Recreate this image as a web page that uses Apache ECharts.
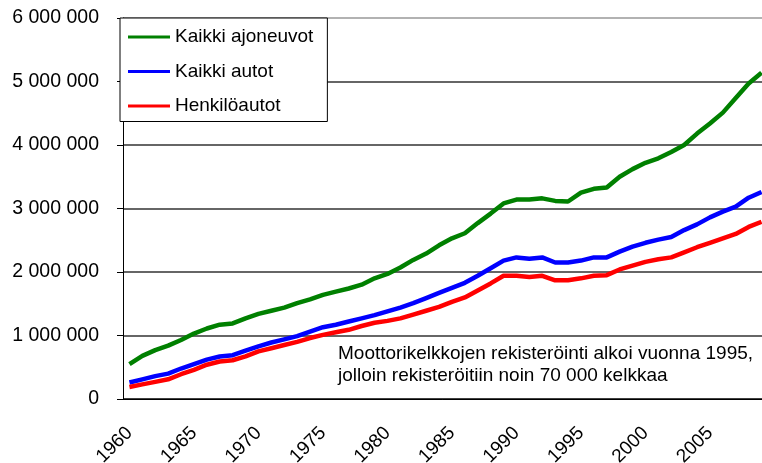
<!DOCTYPE html>
<html>
<head>
<meta charset="utf-8">
<script src="https://cdn.jsdelivr.net/npm/echarts@6/dist/echarts.min.js"></script>
<style>
  html, body { margin: 0; padding: 0; background: #fff; }
  #chart { width: 762px; height: 463px; }
</style>
</head>
<body>
<div id="chart"></div>
<script>
// vuodet 1960-2009
const years = []
for (let y = 1960; y <= 2009; y++) years.push(String(y))

// Kaikki ajoneuvot (kpl)
const kaikkiAjoneuvot = [
  550000, 680000, 770000, 840000, 930000, 1030000, 1110000, 1170000, 1190000, 1270000,
  1340000, 1390000, 1440000, 1510000, 1570000, 1640000, 1690000, 1740000, 1800000, 1900000,
  1970000, 2070000, 2190000, 2290000, 2420000, 2530000, 2610000, 2770000, 2920000, 3080000,
  3140000, 3140000, 3160000, 3120000, 3110000, 3250000, 3310000, 3330000, 3500000, 3620000,
  3720000, 3790000, 3890000, 4000000, 4180000, 4340000, 4510000, 4740000, 4970000, 5140000,
]
// Kaikki autot
const kaikkiAutot = [
  260000, 310000, 360000, 400000, 480000, 550000, 620000, 670000, 690000, 760000,
  830000, 890000, 940000, 990000, 1060000, 1130000, 1170000, 1220000, 1270000, 1320000,
  1380000, 1440000, 1510000, 1590000, 1670000, 1750000, 1830000, 1940000, 2060000, 2180000,
  2230000, 2210000, 2230000, 2150000, 2150000, 2180000, 2230000, 2230000, 2320000, 2400000,
  2460000, 2510000, 2550000, 2660000, 2750000, 2860000, 2950000, 3030000, 3170000, 3260000,
]
// Henkilöautot
const henkiloautot = [
  190000, 230000, 270000, 310000, 390000, 460000, 540000, 590000, 610000, 670000,
  750000, 800000, 850000, 900000, 960000, 1010000, 1050000, 1090000, 1150000, 1200000,
  1230000, 1270000, 1330000, 1390000, 1450000, 1530000, 1600000, 1710000, 1820000, 1940000,
  1940000, 1920000, 1940000, 1870000, 1870000, 1900000, 1940000, 1950000, 2040000, 2100000,
  2160000, 2200000, 2230000, 2310000, 2390000, 2460000, 2530000, 2600000, 2710000, 2790000,
]

const seriesNames = ['Kaikki ajoneuvot', 'Kaikki autot', 'Henkilöautot']
const seriesColors = ['#008000', '#0000ff', '#ff0000']
const note = 'Moottorikelkkojen rekisteröinti alkoi vuonna 1995,\njolloin rekisteröitiin noin 70 000 kelkkaa'

const font = 'Arial, "Liberation Sans", sans-serif'
const fmt = v => String(v).replace(/\B(?=(\d{3})+(?!\d))/g, ' ')

let myChart = echarts.init(document.getElementById('chart'), null, { renderer: 'canvas' })
myChart.setOption({
  animation: false,
  color: seriesColors,
  textStyle: { fontFamily: font },
  grid: {
    left: 123,
    top: 18,
    width: 645,
    height: 381,
    containLabel: false,
    outerBoundsMode: 'none',
  },
  legend: {
    left: 120,
    top: 18,
    orient: 'vertical',
    icon: 'rect',
    itemWidth: 42,
    itemHeight: 3,
    itemGap: 13.5,
    padding: [8.5, 14, 5, 8],
    backgroundColor: '#fff',
    borderColor: '#000',
    borderWidth: 1,
    textStyle: {
      color: '#000',
      fontSize: 19,
      lineHeight: 21,
      fontFamily: font,
    },
    data: seriesNames,
  },
  xAxis: {
    type: 'category',
    data: years,
    boundaryGap: true,
    axisLine: { lineStyle: { color: '#000', width: 1 } },
    axisTick: { interval: 0, length: 6, lineStyle: { color: '#000' } },
    axisLabel: {
      interval: idx => idx % 5 === 0,
      rotate: 45,
      margin: 31,
      color: '#000',
      fontSize: 19,
      fontFamily: font,
    },
    splitLine: { show: false },
  },
  yAxis: {
    type: 'value',
    min: 0,
    max: 6000000,
    interval: 1000000,
    axisLine: { show: true, lineStyle: { color: '#000', width: 1 } },
    axisTick: { show: true, length: 6, lineStyle: { color: '#000' } },
    axisLabel: {
      margin: 24,
      color: '#000',
      fontSize: 19.5,
      fontFamily: font,
      formatter: fmt,
    },
    splitLine: {
      lineStyle: {
        color: ['#000', '#333', '#333', '#333', '#333', '#333', '#999'],
        width: 1.5,
      },
    },
  },
  graphic: [
    {
      type: 'text',
      left: 338,
      top: 343,
      style: {
        text: note,
        fill: '#000',
        font: '19px ' + font,
        lineHeight: 22,
      },
    },
  ],
  series: [
    { name: seriesNames[0], type: 'line', symbol: 'none', lineStyle: { width: 4.5 }, data: kaikkiAjoneuvot },
    { name: seriesNames[1], type: 'line', symbol: 'none', lineStyle: { width: 4.5 }, data: kaikkiAutot },
    { name: seriesNames[2], type: 'line', symbol: 'none', lineStyle: { width: 4.5 }, data: henkiloautot },
  ],
})
</script>
</body>
</html>
